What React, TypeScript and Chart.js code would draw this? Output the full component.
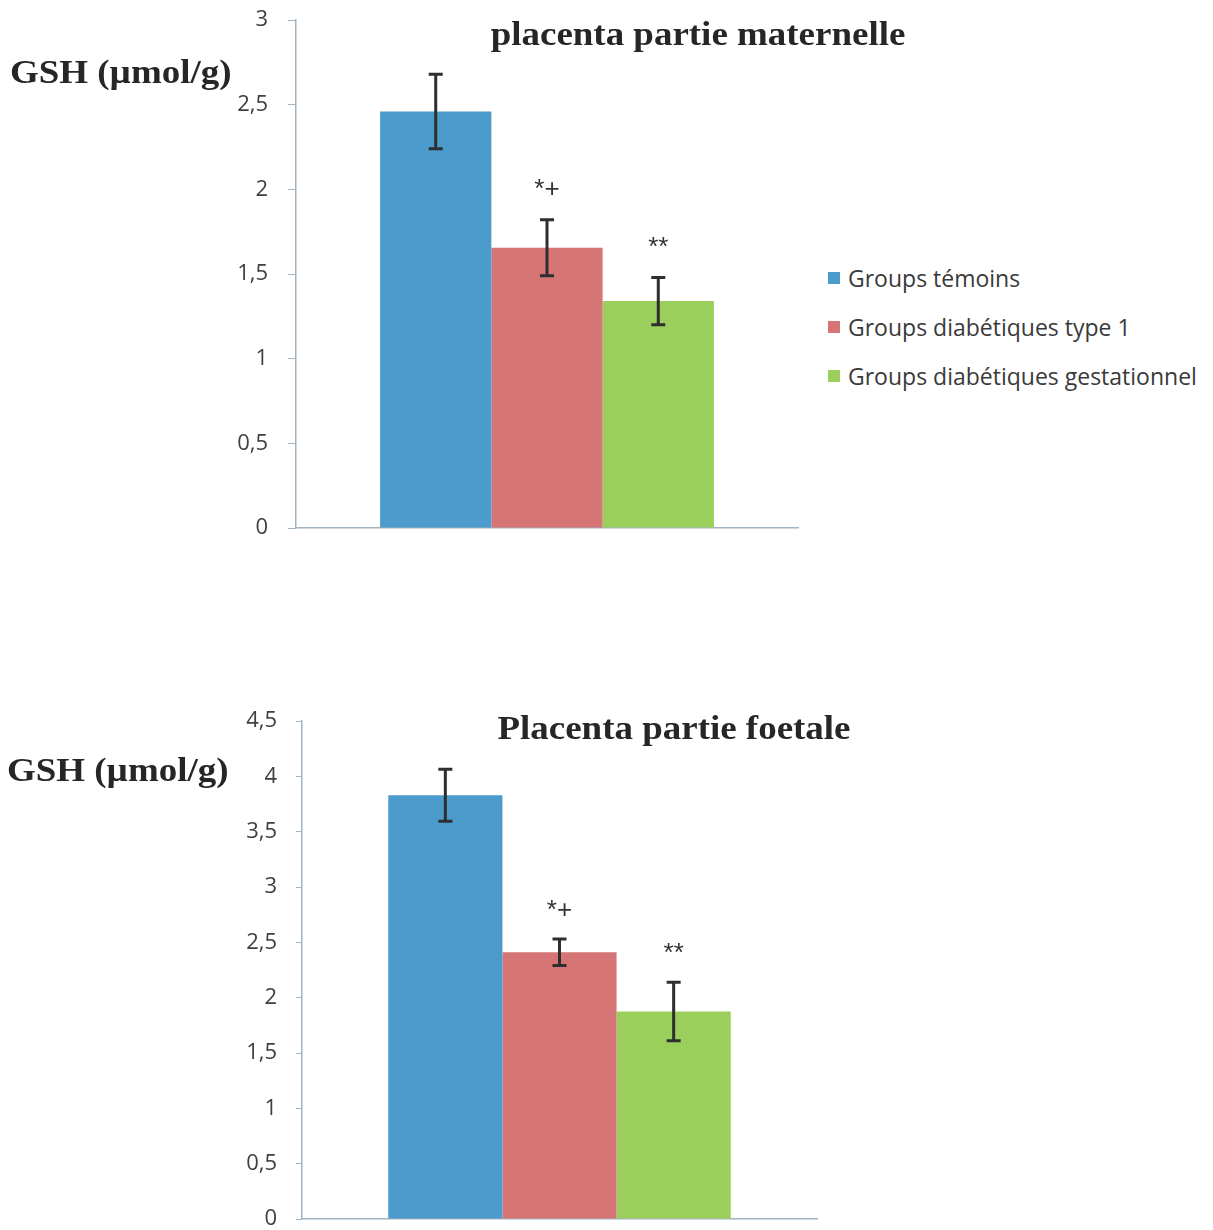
import React, { useEffect, useRef } from "react";
import { Chart, registerables } from "chart.js";

Chart.register(...registerables);

const groupLabels = ["Groups témoins", "Groups diabétiques type 1", "Groups diabétiques gestationnel"];
const groupColors = ["#4b9bcc", "#d67575", "#9bcf5c"];

const maternalValues = [2.46, 1.655, 1.34];
const maternalErrors = [0.22, 0.165, 0.14];
const maternalSig = ["", "*+", "**"];
const maternalTicks = { min: 0, max: 3, step: 0.5 };

const foetalValues = [3.83, 2.41, 1.875];
const foetalErrors = [0.235, 0.12, 0.265];
const foetalSig = ["", "*+", "**"];
const foetalTicks = { min: 0, max: 4.5, step: 0.5 };

const titles = ["placenta partie maternelle", "Placenta partie foetale"];
const yAxisTitle = "GSH (µmol/g)";

const axisColor = "#a3b3c2";
const textColor = "#404040";

function makeErrorPlugin(values: number[], errors: number[], sig: string[], sigOffset: number) {
  return {
    id: "errorBars",
    afterDatasetsDraw(chart: any) {
      const ctx = chart.ctx;
      const y = chart.scales.y;
      ctx.save();
      values.forEach((v, i) => {
        const meta = chart.getDatasetMeta(i);
        const bar = meta.data[0];
        if (!bar) return;
        const x = bar.x;
        const top = y.getPixelForValue(v + errors[i]);
        const bot = y.getPixelForValue(v - errors[i]);
        ctx.strokeStyle = "#2e2e2e";
        ctx.lineWidth = 3;
        ctx.beginPath();
        ctx.moveTo(x, top);
        ctx.lineTo(x, bot);
        ctx.moveTo(x - 7, top);
        ctx.lineTo(x + 7, top);
        ctx.moveTo(x - 7, bot);
        ctx.lineTo(x + 7, bot);
        ctx.stroke();
        if (sig[i]) {
          ctx.fillStyle = "#333";
          ctx.font = "26px 'Liberation Sans'";
          ctx.textAlign = "center";
          ctx.textBaseline = "middle";
          ctx.fillText(sig[i], x, top - sigOffset);
        }
      });
      ctx.restore();
    },
  };
}

function BarChart(props: {
  values: number[];
  errors: number[];
  sig: string[];
  ticks: { min: number; max: number; step: number };
  yWidth: number;
  xHeight: number;
  padTop: number;
  padRight: number;
  tickLen: number;
  tickPad: number;
  width: number;
  height: number;
  left: number;
  top: number;
  sigOffset: number;
}) {
  const ref = useRef<HTMLCanvasElement>(null);
  useEffect(() => {
    if (!ref.current) return;
    const chart = new Chart(ref.current, {
      type: "bar",
      data: {
        labels: [""],
        datasets: props.values.map((v, i) => ({
          label: groupLabels[i],
          data: [v],
          backgroundColor: groupColors[i],
          borderWidth: 0,
        })),
      },
      options: {
        animation: false,
        responsive: false,
        maintainAspectRatio: false,
        layout: { padding: { top: props.padTop, right: props.padRight, left: 0, bottom: 0 } },
        plugins: { legend: { display: false }, tooltip: { enabled: false }, title: { display: false } },
        datasets: { bar: { categoryPercentage: 0.665, barPercentage: 1 } },
        scales: {
          x: {
            grid: { display: false },
            ticks: { display: false },
            border: { display: true, color: axisColor, width: 1.5 },
            afterFit: (s: any) => {
              s.height = props.xHeight;
              s.paddingLeft = 0;
              s.paddingRight = 0;
            },
          },
          y: {
            min: props.ticks.min,
            max: props.ticks.max,
            grid: {
              display: true,
              drawOnChartArea: false,
              drawTicks: true,
              tickLength: props.tickLen,
              color: axisColor,
            },
            border: { display: true, color: axisColor, width: 1.5 },
            ticks: {
              stepSize: props.ticks.step,
              color: textColor,
              padding: props.tickPad,
              font: { family: "'Open Sans'", size: 22 },
              callback: (v: any) => String(Number(v)).replace(".", ","),
            },
            afterFit: (s: any) => {
              s.width = props.yWidth;
              s.paddingTop = 0;
              s.paddingBottom = 0;
            },
          },
        },
      },
      plugins: [makeErrorPlugin(props.values, props.errors, props.sig, props.sigOffset)],
    } as any);
    return () => chart.destroy();
  }, []);
  return (
    <canvas
      ref={ref}
      width={props.width}
      height={props.height}
      style={{ position: "absolute", left: props.left, top: props.top, width: props.width, height: props.height }}
    />
  );
}

const serifBold: React.CSSProperties = {
  position: "absolute",
  fontFamily: "'Liberation Serif', 'Times New Roman', serif",
  fontWeight: "bold",
  fontSize: 33,
  color: "#262626",
  whiteSpace: "nowrap",
  lineHeight: "1",
  transform: "scaleX(1.12)",
};

export default function App() {
  return (
    <div style={{ position: "absolute", left: 0, top: 0, width: 1213, height: 1230, background: "#fff", overflow: "hidden" }}>
      <BarChart
        values={maternalValues}
        errors={maternalErrors}
        sig={maternalSig}
        ticks={maternalTicks}
        yWidth={96}
        xHeight={32}
        padTop={20}
        padRight={22}
        tickLen={8}
        tickPad={20}
        width={620}
        height={560}
        left={200}
        top={0}
        sigOffset={30}
      />
      <BarChart
        values={foetalValues}
        errors={foetalErrors}
        sig={foetalSig}
        ticks={foetalTicks}
        yWidth={102}
        xHeight={31}
        padTop={31}
        padRight={23}
        tickLen={6}
        tickPad={19}
        width={640}
        height={560}
        left={200}
        top={690}
        sigOffset={28}
      />
      <div style={{ ...serifBold, left: 698, top: 18, transform: "translateX(-50%) scaleX(1.12)" }}>{titles[0]}</div>
      <div style={{ ...serifBold, left: 674, top: 712, transform: "translateX(-50%) scaleX(1.12)" }}>{titles[1]}</div>
      <div style={{ ...serifBold, left: 10, top: 56, transformOrigin: "left center" }}>{yAxisTitle}</div>
      <div style={{ ...serifBold, left: 7, top: 754, transformOrigin: "left center" }}>{yAxisTitle}</div>
      {groupLabels.map((l, i) => (
        <div
          key={l}
          style={{
            position: "absolute",
            left: 828,
            top: 278 + i * 49 - 16,
            height: 32,
            display: "flex",
            alignItems: "center",
            fontFamily: "'Open Sans'",
            fontSize: 23,
            color: "#3a3a3a",
            whiteSpace: "nowrap",
          }}
        >
          <span style={{ display: "inline-block", width: 12, height: 12, background: groupColors[i], marginRight: 8 }} />
          {l}
        </div>
      ))}
    </div>
  );
}
